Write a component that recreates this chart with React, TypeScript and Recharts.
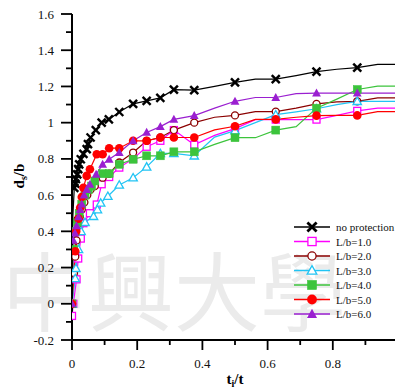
import React from 'react';
import { LineChart, Line, XAxis, YAxis } from 'recharts';

// ---------- data ----------
const noProtX = [0.002, 0.007, 0.010, 0.012, 0.016, 0.019, 0.022, 0.027, 0.035, 0.045, 0.049, 0.057, 0.073, 0.091, 0.113, 0.145, 0.1875, 0.229, 0.271, 0.3125, 0.375, 0.4375, 0.5, 0.5625, 0.625, 0.6875, 0.75, 0.8125, 0.875, 0.9375, 1.0];
const noProtY = [0.46, 0.64, 0.663, 0.689, 0.715, 0.744, 0.77, 0.798, 0.828, 0.854, 0.882, 0.918, 0.959, 1.0, 1.018, 1.059, 1.104, 1.12, 1.137, 1.182, 1.18, 1.2, 1.222, 1.24, 1.24, 1.26, 1.282, 1.295, 1.304, 1.322, 1.322];

const lb1X = [0, 0.004, 0.014, 0.019, 0.027, 0.035, 0.055, 0.076, 0.091, 0.114, 0.145, 0.1875, 0.229, 0.271, 0.3125, 0.375, 0.4375, 0.5, 0.5625, 0.625, 0.6875, 0.75, 0.8125, 0.875, 0.9375, 1.0];
const lb1Y = [-0.067, 0.0, 0.135, 0.25, 0.36, 0.445, 0.5, 0.548, 0.66, 0.70, 0.752, 0.8, 0.867, 0.9, 0.959, 0.878, 0.93, 0.967, 1.017, 1.017, 1.017, 1.017, 1.04, 1.065, 1.08, 1.08];

const lb2X = [0, 0.006, 0.01, 0.014, 0.018, 0.024, 0.03, 0.038, 0.047, 0.057, 0.07, 0.094, 0.114, 0.145, 0.1875, 0.229, 0.271, 0.3125, 0.375, 0.4375, 0.5, 0.5625, 0.625, 0.6875, 0.75, 0.8125, 0.875, 0.9375, 1.0];
const lb2Y = [0, 0.17, 0.26, 0.35, 0.44, 0.48, 0.52, 0.56, 0.6, 0.63, 0.65, 0.696, 0.718, 0.78, 0.835, 0.9, 0.918, 0.959, 1.0, 1.03, 1.04, 1.061, 1.061, 1.08, 1.104, 1.115, 1.118, 1.137, 1.137];

const lb3X = [0, 0.01, 0.012, 0.02, 0.028, 0.04, 0.066, 0.078, 0.088, 0.11, 0.145, 0.1875, 0.229, 0.271, 0.3125, 0.375, 0.4375, 0.5, 0.5625, 0.625, 0.6875, 0.75, 0.8125, 0.875, 0.9375, 1.0];
const lb3Y = [0, 0.14, 0.196, 0.3, 0.4, 0.45, 0.483, 0.52, 0.557, 0.594, 0.656, 0.696, 0.756, 0.83, 0.83, 0.817, 0.92, 0.956, 1.0, 1.044, 1.06, 1.077, 1.10, 1.118, 1.118, 1.118];

const lb4X = [0, 0.005, 0.01, 0.016, 0.022, 0.03, 0.04, 0.05, 0.06, 0.07, 0.094, 0.114, 0.145, 0.1875, 0.229, 0.271, 0.3125, 0.375, 0.4375, 0.5, 0.5625, 0.625, 0.6875, 0.75, 0.8125, 0.875, 0.9375, 1.0];
const lb4Y = [0, 0.3, 0.4, 0.45, 0.5, 0.55, 0.6, 0.63, 0.65, 0.678, 0.718, 0.718, 0.77, 0.798, 0.817, 0.817, 0.839, 0.839, 0.88, 0.917, 0.917, 0.959, 0.978, 1.08, 1.13, 1.183, 1.202, 1.202];

const lb5X = [0, 0.01, 0.013, 0.02, 0.025, 0.03, 0.035, 0.045, 0.055, 0.076, 0.094, 0.114, 0.145, 0.1875, 0.229, 0.271, 0.3125, 0.375, 0.4375, 0.5, 0.5625, 0.625, 0.6875, 0.75, 0.8125, 0.875, 0.9375, 1.0];
const lb5Y = [0, 0.29, 0.4, 0.47, 0.53, 0.59, 0.64, 0.706, 0.743, 0.826, 0.826, 0.859, 0.859, 0.9, 0.9, 0.918, 0.918, 0.918, 0.96, 0.98, 1.018, 1.018, 1.03, 1.039, 1.04, 1.04, 1.061, 1.061];

const lb6X = [0, 0.004, 0.009, 0.014, 0.02, 0.025, 0.03, 0.037, 0.045, 0.055, 0.074, 0.094, 0.114, 0.145, 0.1875, 0.229, 0.271, 0.3125, 0.375, 0.4375, 0.5, 0.5625, 0.625, 0.6875, 0.75, 0.8125, 0.875, 0.9375, 1.0];
const lb6Y = [0, 0.35, 0.39, 0.43, 0.48, 0.52, 0.55, 0.6, 0.63, 0.66, 0.715, 0.77, 0.798, 0.835, 0.9, 0.946, 0.978, 1.018, 1.039, 1.08, 1.118, 1.139, 1.139, 1.16, 1.163, 1.163, 1.163, 1.163, 1.163];

// times at which no marker is drawn
const unmarkedX = [0.4375, 0.5625, 0.6875, 0.8125, 0.9375, 1.0];

const seriesNames = ['no protection', 'L/b=1.0', 'L/b=2.0', 'L/b=3.0', 'L/b=4.0', 'L/b=5.0', 'L/b=6.0'];

const xTicks = [0, 0.1, 0.2, 0.3, 0.4, 0.5, 0.6, 0.7, 0.8, 0.9];
const yTicks = [-0.2, -0.1, 0, 0.1, 0.2, 0.3, 0.4, 0.5, 0.6, 0.7, 0.8, 0.9, 1.0, 1.1, 1.2, 1.3, 1.4, 1.5, 1.6];

// ---------- styles ----------
const FONT = '"Liberation Serif", "Times New Roman", serif';
type Kind = 'x' | 'sq' | 'circ' | 'tri' | 'fsq' | 'fcirc' | 'ftri';

const series = [
  { name: seriesNames[0], xs: noProtX, ys: noProtY, color: '#000000', kind: 'x' as Kind },
  { name: seriesNames[1], xs: lb1X, ys: lb1Y, color: '#ff00ff', kind: 'sq' as Kind },
  { name: seriesNames[2], xs: lb2X, ys: lb2Y, color: '#8b0000', kind: 'circ' as Kind },
  { name: seriesNames[3], xs: lb3X, ys: lb3Y, color: '#22c4f4', kind: 'tri' as Kind },
  { name: seriesNames[4], xs: lb4X, ys: lb4Y, color: '#3cc43c', kind: 'fsq' as Kind },
  { name: seriesNames[5], xs: lb5X, ys: lb5Y, color: '#ff0000', kind: 'fcirc' as Kind },
  { name: seriesNames[6], xs: lb6X, ys: lb6Y, color: '#9a1fd0', kind: 'ftri' as Kind },
];

function Marker({ cx, cy, kind, color, s = 1 }: { cx: number; cy: number; kind: Kind; color: string; s?: number }) {
  const h = 4 * s;
  switch (kind) {
    case 'x':
      return (
        <g>
          <line x1={cx - h} y1={cy - h} x2={cx + h} y2={cy + h} stroke={color} strokeWidth={2.4 * s} />
          <line x1={cx - h} y1={cy + h} x2={cx + h} y2={cy - h} stroke={color} strokeWidth={2.4 * s} />
        </g>
      );
    case 'sq':
      return <rect x={cx - h + 0.5} y={cy - h + 0.5} width={2 * h - 1} height={2 * h - 1} fill="#fff" stroke={color} strokeWidth={1.3} />;
    case 'fsq':
      return <rect x={cx - h} y={cy - h} width={2 * h} height={2 * h} fill={color} stroke={color} strokeWidth={0.5} />;
    case 'circ':
      return <circle cx={cx} cy={cy} r={h - 0.5} fill="#fff" stroke={color} strokeWidth={1.3} />;
    case 'fcirc':
      return <circle cx={cx} cy={cy} r={h + 0.3} fill={color} />;
    case 'tri':
      return (
        <polygon
          points={`${cx},${cy - h * 1.05} ${cx - h * 1.05},${cy + h * 0.8} ${cx + h * 1.05},${cy + h * 0.8}`}
          fill="#fff"
          stroke={color}
          strokeWidth={1.3}
        />
      );
    case 'ftri':
    default:
      return (
        <polygon
          points={`${cx},${cy - h * 1.15} ${cx - h * 1.1},${cy + h * 0.85} ${cx + h * 1.1},${cy + h * 0.85}`}
          fill={color}
        />
      );
  }
}

const YTick = (p: any) => {
  const v = p.payload.value;
  const major = Math.round(v * 10) % 2 === 0;
  const label = Math.abs(v) < 1e-9 ? '0' : String(Math.round(v * 10) / 10);
  return (
    <g>
      <line x1={p.x - (major ? 11 : 6)} y1={p.y} x2={p.x} y2={p.y} stroke="#000" strokeWidth={1.8} />
      {major && (
        <text x={p.x - 18} y={p.y + 4.5} textAnchor="end" fontFamily={FONT} fontSize={13} fill="#111">
          {label}
        </text>
      )}
    </g>
  );
};

const XTick = (p: any) => {
  const v = p.payload.value;
  const major = Math.round(v * 10) % 2 === 0;
  const label = Math.abs(v) < 1e-9 ? '0' : String(Math.round(v * 10) / 10);
  return (
    <g>
      <line x1={p.x} y1={p.y} x2={p.x} y2={p.y + (major ? 10 : 5)} stroke="#000" strokeWidth={1.8} />
      {major && (
        <text x={p.x} y={p.y + 27.5} textAnchor="middle" fontFamily={FONT} fontSize={13} fill="#111">
          {label}
        </text>
      )}
    </g>
  );
};

const isMarked = (x: number) => !unmarkedX.some((u) => Math.abs(u - x) < 1e-6);

export default function App() {
  return (
    <div style={{ position: 'absolute', left: 0, top: 0, width: 395, height: 389, overflow: 'hidden', background: '#fff' }}>
      <div
        style={{
          position: 'absolute',
          left: 2,
          top: 240,
          fontFamily: '"Noto Sans CJK TC", "Noto Sans CJK SC", sans-serif',
          fontSize: 86,
          lineHeight: '96px',
          color: '#ebebeb',
          whiteSpace: 'nowrap',
          zIndex: 0,
        }}
      >
        中興大學
      </div>
      <div style={{ position: 'absolute', left: 0, top: 0, zIndex: 1 }}>
        <LineChart width={410} height={389} margin={{ top: 14, right: 12, bottom: 0, left: 0 }}>
          <XAxis
            type="number"
            dataKey="x"
            domain={[0, 1]}
            ticks={xTicks}
            interval={0}
            tick={(p: any) => <XTick {...p} />}
            tickLine={false}
            tickSize={0}
            tickMargin={0}
            height={49}
            axisLine={{ stroke: '#000', strokeWidth: 2 }}
            allowDataOverflow
          />
          <YAxis
            type="number"
            domain={[-0.2, 1.6]}
            ticks={yTicks}
            interval={0}
            tick={(p: any) => <YTick {...p} />}
            tickLine={false}
            tickSize={0}
            tickMargin={0}
            width={72}
            axisLine={{ stroke: '#000', strokeWidth: 2 }}
            allowDataOverflow
          />
          {series.map((s) => (
            <Line
              key={s.name}
              data={s.xs.map((x, i) => ({ x, y: s.ys[i] }))}
              dataKey="y"
              type="linear"
              stroke={s.color}
              strokeWidth={1.2}
              isAnimationActive={false}
              activeDot={false}
              dot={(p: any) =>
                p.payload && isMarked(p.payload.x) ? (
                  <Marker key={`${s.name}-${p.index}`} cx={p.cx} cy={p.cy} kind={s.kind} color={s.color} />
                ) : (
                  <g key={`${s.name}-${p.index}`} />
                )
              }
            />
          ))}
        </LineChart>
      </div>
      <svg width={395} height={389} style={{ position: 'absolute', left: 0, top: 0, zIndex: 2, pointerEvents: 'none' }}>
        {series.map((s, i) => {
          const y = 227 + i * 14.5;
          return (
            <g key={s.name}>
              <line x1={294} y1={y} x2={330} y2={y} stroke={s.color} strokeWidth={1.3} />
              <Marker cx={312} cy={y} kind={s.kind} color={s.color} s={1.15} />
              <text x={336} y={y + 4} fontFamily={FONT} fontSize={11} fill="#111">
                {s.name}
              </text>
            </g>
          );
        })}
        <text transform="translate(24,176) rotate(-90)" textAnchor="middle" fontFamily={FONT} fontSize={15} fontWeight="bold" fill="#000">
          d<tspan dy={3} fontSize={10}>s</tspan>
          <tspan dy={-3}>/b</tspan>
        </text>
        <text x={235} y={384} textAnchor="middle" fontFamily={FONT} fontSize={15} fontWeight="bold" fill="#000">
          t<tspan dy={3} fontSize={10}>i</tspan>
          <tspan dy={-3}>/t</tspan>
        </text>
      </svg>
    </div>
  );
}
